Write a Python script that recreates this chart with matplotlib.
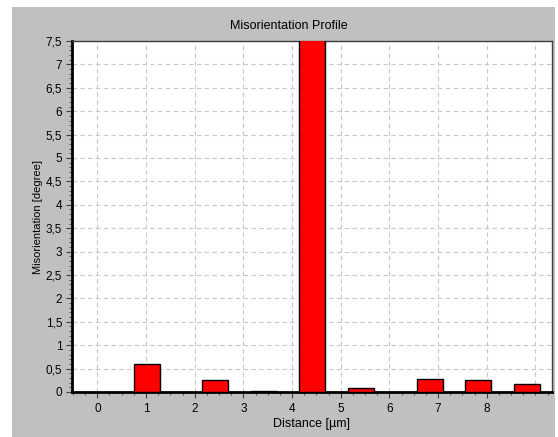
import numpy as np
import matplotlib
matplotlib.use("Agg")
import matplotlib.pyplot as plt
from matplotlib.patches import Rectangle
from matplotlib.ticker import MultipleLocator, FuncFormatter

# 数据：条形中心位置（距离）和取向差
distance = [1.02, 2.42, 3.42, 4.41, 5.41, 6.83, 7.82, 8.82]
misorientation = [0.59, 0.26, 0.02, 7.9, 0.08, 0.27, 0.25, 0.17]
x_ticks = [0, 1, 2, 3, 4, 5, 6, 7, 8]
y_ticks = [0, 0.5, 1, 1.5, 2, 2.5, 3, 3.5, 4, 4.5, 5, 5.5, 6, 6.5, 7, 7.5]

plt.rcParams['font.family'] = ['Liberation Sans', 'DejaVu Sans']

W, H = 558, 437
fig = plt.figure(figsize=(W / 100, H / 100), dpi=100)
fig.patch.set_facecolor('white')
# 灰色面板
panel = Rectangle((12 / W, 0), (555 - 12) / W, (H - 7) / H,
                  transform=fig.transFigure, facecolor='#c0c0c0',
                  edgecolor='none', zorder=-5)
fig.add_artist(panel)

ax = fig.add_axes([72 / W, (H - 392) / H, (551.5 - 72) / W, (392 - 41) / H])
ax.set_zorder(2)
ax.set_facecolor('white')

ax.bar(distance, misorientation, width=0.53, color='#ff0000',
       edgecolor='black', linewidth=1.0, zorder=3)

ax.set_xlim(-0.52, 9.33)
ax.set_ylim(0, 7.5)

ax.set_xticks(x_ticks)
ax.xaxis.set_minor_locator(MultipleLocator(0.25))
ax.set_yticks(y_ticks)
ax.yaxis.set_minor_locator(MultipleLocator(0.1))
ax.yaxis.set_major_formatter(FuncFormatter(lambda v, p: ('%g' % v).replace('.', ',')))

# 网格线（包括 x=9 处）
for gx in x_ticks + [9]:
    ax.axvline(gx, color='#c8c8c8', linestyle=(0, (4, 3)), linewidth=0.8, zorder=1)
for gy in y_ticks:
    ax.axhline(gy, color='#c8c8c8', linestyle=(0, (4, 3)), linewidth=0.8, zorder=1)

ax.tick_params(axis='both', which='major', length=4, width=0.8, color='#404040',
               labelsize=8.5, pad=3, direction='out')
ax.tick_params(axis='x', which='major', pad=4)
ax.tick_params(axis='both', which='minor', length=2, width=0.6, color='#404040')

ax.spines['left'].set_linewidth(2)
ax.spines['bottom'].set_linewidth(2)
ax.spines['top'].set_color('#404040')
ax.spines['right'].set_color('#404040')
ax.spines['top'].set_linewidth(1)
ax.spines['right'].set_linewidth(1)

fig.text(289 / W, 1 - 26 / H, 'Misorientation Profile', ha='center', va='center', fontsize=9)
ax.set_xlabel('Distance [µm]', fontsize=9, labelpad=2)
ax.set_ylabel('Misorientation [degree]', fontsize=8, labelpad=2)

fig.savefig('out.png', dpi=100, facecolor=fig.get_facecolor())
